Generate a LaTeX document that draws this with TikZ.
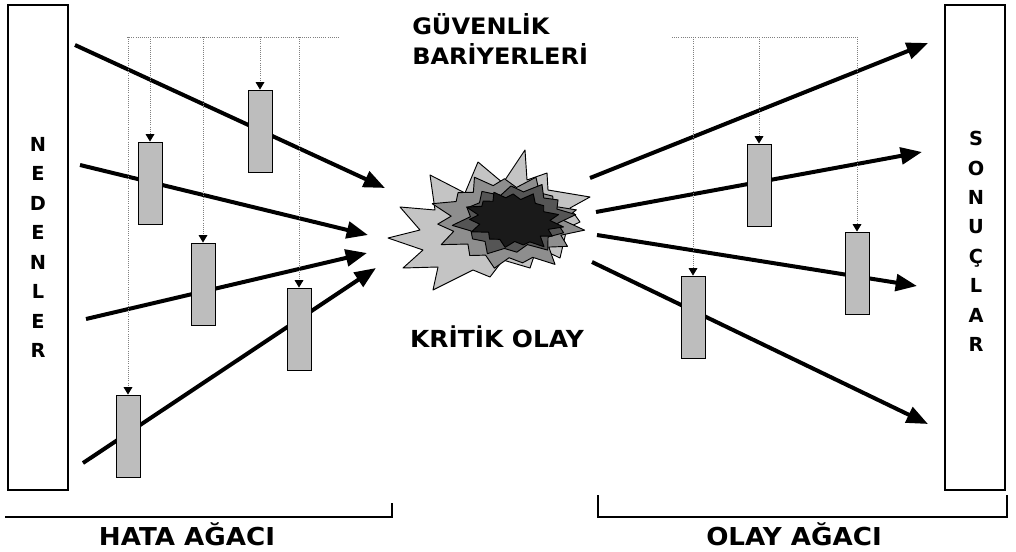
\documentclass[tikz,border=0pt]{standalone}
\usepackage{fontspec}
\setmainfont{DejaVu Sans}
\newfontfamily\headfont{DejaVu Sans}[FakeStretch=1.06]
\usetikzlibrary{arrows.meta,calc}

\definecolor{barriergray}{HTML}{BDBDBD}
\definecolor{burstlight}{HTML}{C4C4C4}
\definecolor{burstmid}{HTML}{8E8E8E}
\definecolor{burstdark}{HTML}{555555}
\definecolor{burstcore}{HTML}{1A1A1A}

% radii of the jagged star outlines (angle/relative radius)
\def\burstC{15/0.72,30/0.9,45/0.74,60/1.0,75/0.7,90/0.85,105/0.75,120/0.95,135/0.7,150/0.8,165/0.73,180/1.0,195/0.72,210/0.85,225/0.75,240/0.95,255/0.7,270/0.9,285/0.74,300/1.0,315/0.72,330/0.85,345/0.73}
\def\burstD{12/0.72,24/0.88,36/0.7,48/1.0,60/0.75,72/0.82,84/0.71,96/0.95,108/0.74,120/0.86,132/0.7,144/1.0,156/0.73,168/0.9,180/0.72,192/1.0,204/0.74,216/0.82,228/0.7,240/0.95,252/0.73,264/0.86,276/0.71,288/1.0,300/0.75,312/0.82,324/0.7,336/0.95,348/0.73}

\begin{document}
\begin{tikzpicture}[x=0.75pt,y=-0.75pt,
  sidebox/.style={draw, line width=1.6pt, minimum width=45pt, minimum height=363.75pt, inner sep=0pt},
  sidetext/.style={align=center, inner sep=0pt, font=\bfseries\fontsize{14.5}{22.1}\selectfont},
  barrier/.style={draw, line width=0.7pt, fill=barriergray, minimum width=18pt, minimum height=61.5pt, inner sep=0pt},
  flow/.style={line width=3pt, -{Triangle[length=16pt,width=12.5pt]}},
  guide/.style={draw=gray, line width=0.6pt, densely dotted},
  guidearrow/.style={guide, -{Triangle[length=5.5pt,width=6.5pt,color=black]}},
  bracketline/.style={line width=2pt},
  captext/.style={inner sep=0pt, font=\headfont\bfseries\fontsize{17}{22.5}\selectfont},
  treetext/.style={inner sep=0pt, font=\headfont\bfseries\fontsize{18.5}{22.5}\selectfont},
  burstline/.style={draw=black, line width=0.7pt, line join=round}
]
\useasboundingbox (0,0) rectangle (1016,552);

% causes and consequences
\node[sidebox] (nedenler) at (38,247.5) {};
\node[sidetext] (nedenlertxt) at (38,247.5) {N\\E\\D\\E\\N\\L\\E\\R};
\node[sidebox] (sonuclar) at (975,247.5) {};
\node[sidetext] (sonuclartxt) at (976,241.5) {S\\O\\N\\U\\Ç\\L\\A\\R};

% critical event: layered starburst
\coordinate (kritik) at (490,220);
\filldraw[burstline, fill=burstlight]
  (388,238) -- (420,230) -- (400,207) -- (435,210) -- (430,175) -- (465,193)
  -- (478,162) -- (503,183) -- (525,150) -- (527,180) -- (547,173) -- (548,190)
  -- (590,197) -- (570,208) -- (580,222) -- (567,228) -- (560,258) -- (537,247)
  -- (530,268) -- (503,260) -- (490,277) -- (473,270) -- (433,290) -- (438,267)
  -- (403,268) -- (423,250) -- cycle;
\coordinate (burst2) at (507,222);
\coordinate (burst3) at (514,220);
\coordinate (burst4) at (514,220);
\filldraw[burstline, fill=burstmid, rotate around={-6:(burst2)}]
  ($(burst2)+(0:78 and 50)$) \foreach \a/\r in \burstD { -- ($(burst2)+(\a:{\r*78} and {\r*50})$) } -- cycle;
\filldraw[burstline, fill=burstdark, rotate around={5:(burst3)}]
  ($(burst3)+(0:62 and 38)$) \foreach \a/\r in \burstC { -- ($(burst3)+(\a:{\r*62} and {\r*38})$) } -- cycle;
\filldraw[burstline, fill=burstcore, rotate around={-8:(burst4)}]
  ($(burst4)+(0:50 and 30)$) \foreach \a/\r in \burstD { -- ($(burst4)+(\a:{\r*50} and {\r*30})$) } -- cycle;

% flows into and out of the critical event
\coordinate (a1s) at (75,45);   \coordinate (a1e) at (385,188);
\coordinate (a2s) at (80,165);  \coordinate (a2e) at (368,235);
\coordinate (a3s) at (86,319);  \coordinate (a3e) at (367,253);
\coordinate (a4s) at (83,463);  \coordinate (a4e) at (376,268);
\coordinate (b1s) at (590,178); \coordinate (b1e) at (928,43);
\coordinate (b2s) at (596,212); \coordinate (b2e) at (922,152);
\coordinate (b3s) at (597,235); \coordinate (b3e) at (917,286);
\coordinate (b4s) at (592,262); \coordinate (b4e) at (928,424);
\foreach \p in {a1,a2,a3,a4,b1,b2,b3,b4}
  \draw[flow] (\p s) -- (\p e);

% safety barriers
\node[barrier] (bar1) at (260,131) {};
\node[barrier] (bar2) at (150,183) {};
\node[barrier] (bar3) at (203,284) {};
\node[barrier] (bar4) at (299,329) {};
\node[barrier] (bar5) at (128,436) {};
\node[barrier] (bar6) at (759,185) {};
\node[barrier] (bar7) at (857,273) {};
\node[barrier] (bar8) at (693,317) {};

% barrier guide lines
\coordinate (guideL1) at (127,37); \coordinate (guideL2) at (340,37);
\coordinate (guideR1) at (672,37); \coordinate (guideR2) at (857,37);
\draw[guide] (guideL1) -- (guideL2);
\draw[guide] (guideR1) -- (guideR2);
\foreach \b/\g in {bar1/guideL1,bar2/guideL1,bar3/guideL1,bar4/guideL1,bar5/guideL1,bar6/guideR1,bar7/guideR1,bar8/guideR1}
  \draw[guidearrow] (\b.north |- \g) -- (\b.north);

% headings
\node[captext, align=left, anchor=north west] (bariyer) at (412,13) {GÜVENLİK\\BARİYERLERİ};
\node[captext, font=\headfont\bfseries\fontsize{17.6}{22.5}\selectfont, anchor=base] (kritiktxt) at (497,347) {KRİTİK OLAY};

% tree brackets
\coordinate (hL) at (5,517); \coordinate (hR) at (392,517); \coordinate (hT) at (392,503);
\draw[bracketline] (hL) -- (hR) -- (hT);
\coordinate (oL) at (598,517); \coordinate (oR) at (1007,517);
\coordinate (oLT) at (598,495); \coordinate (oRT) at (1007,495);
\draw[bracketline] (oLT) -- (oL) -- (oR) -- (oRT);
\node[treetext, anchor=base] (hata) at (187,545) {HATA AĞACI};
\node[treetext, anchor=base] (olay) at (794,545) {OLAY AĞACI};
\end{tikzpicture}
\end{document}
